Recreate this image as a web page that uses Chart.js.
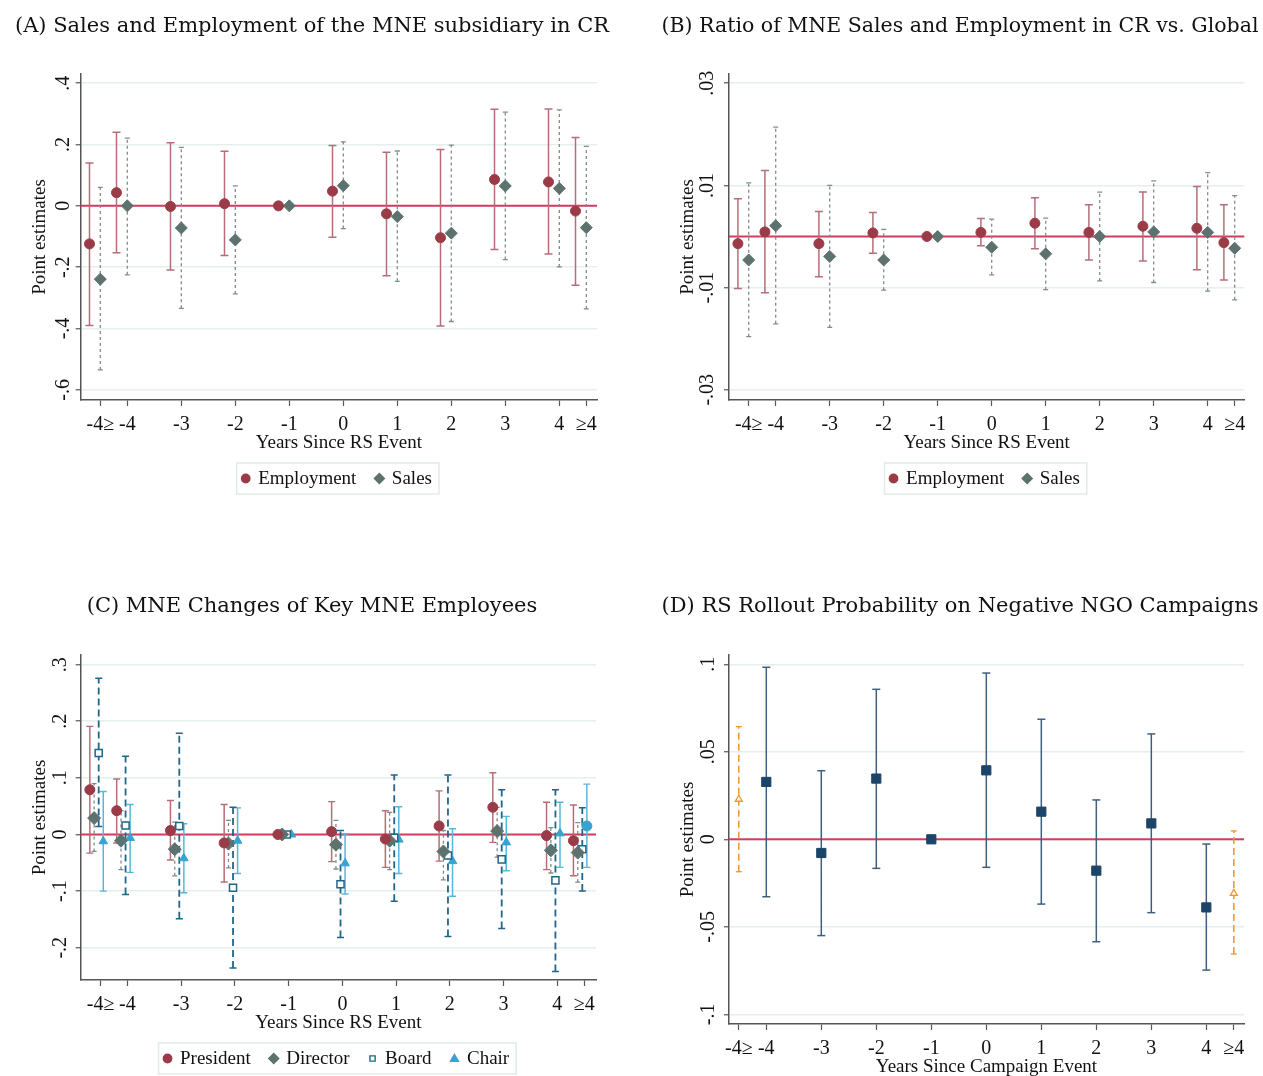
<!DOCTYPE html>
<html>
<head>
<meta charset="utf-8">
<script src="https://cdn.jsdelivr.net/npm/chart.js@4.4.1/dist/chart.umd.min.js"></script>
<style>
  body { margin: 0; background: #fff; width: 1263px; height: 1076px; position: relative; overflow: hidden; }
  canvas { position: absolute; }
</style>
</head>
<body>
<canvas id="chartA" width="631" height="520" style="left:0;top:0"></canvas>
<canvas id="chartB" width="632" height="520" style="left:631px;top:0"></canvas>
<canvas id="chartC" width="631" height="530" style="left:0;top:560px"></canvas>
<canvas id="chartD" width="632" height="530" style="left:631px;top:560px"></canvas>
<script>
// x positions of the event-time bins and their tick labels
const xPos = [-4.5, -4, -3, -2, -1, 0, 1, 2, 3, 4, 4.5];
const xLabels = ['-4≥', '-4', '-3', '-2', '-1', '0', '1', '2', '3', '4', '≥4'];

// (A) subsidiary sales and employment
const empA    = [-0.124, 0.043, -0.002, 0.007, 0, 0.048, -0.026, -0.104, 0.086, 0.078, -0.017];
const empA_lo = [-0.390, -0.153, -0.209, -0.162, null, -0.102, -0.228, -0.392, -0.142, -0.157, -0.259];
const empA_hi = [0.140, 0.240, 0.206, 0.178, null, 0.197, 0.175, 0.184, 0.315, 0.316, 0.223];
const salesA    = [-0.239, 0, -0.072, -0.111, 0, 0.066, -0.035, -0.089, 0.065, 0.057, -0.071];
const salesA_lo = [-0.535, -0.225, -0.334, -0.287, null, -0.074, -0.246, -0.377, -0.175, -0.199, -0.336];
const salesA_hi = [0.060, 0.221, 0.191, 0.065, null, 0.209, 0.179, 0.198, 0.306, 0.313, 0.194];
const yTicksA  = [-0.6, -0.4, -0.2, 0, 0.2, 0.4];
const yLabelsA = ['-.6', '-.4', '-.2', '0', '.2', '.4'];

// (B) ratio CR vs global
const empB    = [-0.0014, 0.0009, -0.0014, 0.0007, 0, 0.0008, 0.0026, 0.0008, 0.0020, 0.0016, -0.0012];
const empB_lo = [-0.0102, -0.0110, -0.0079, -0.0033, null, -0.0018, -0.0024, -0.0046, -0.0048, -0.0065, -0.0085];
const empB_hi = [0.0074, 0.0129, 0.0049, 0.0047, null, 0.0035, 0.0076, 0.0062, 0.0087, 0.0098, 0.0062];
const salesB    = [-0.0046, 0.0021, -0.0039, -0.0046, 0, -0.0021, -0.0034, 0, 0.0009, 0.0008, -0.0023];
const salesB_lo = [-0.0196, -0.0171, -0.0178, -0.0105, null, -0.0075, -0.0104, -0.0087, -0.0090, -0.0107, -0.0124];
const salesB_hi = [0.0105, 0.0214, 0.0100, 0.0014, null, 0.0034, 0.0036, 0.0087, 0.0109, 0.0125, 0.0080];
const yTicksB  = [-0.03, -0.01, 0.01, 0.03];
const yLabelsB = ['-.03', '-.01', '.01', '.03'];

// (C) key employees
const pres    = [0.079, 0.042, 0.007, -0.015, 0, 0.005, -0.008, 0.015, 0.048, -0.002, -0.011];
const pres_lo = [-0.033, -0.015, -0.045, -0.084, null, -0.048, -0.058, -0.047, -0.014, -0.062, -0.073];
const pres_hi = [0.191, 0.098, 0.060, 0.053, null, 0.058, 0.042, 0.077, 0.109, 0.057, 0.052];
const dir    = [0.029, -0.011, -0.026, -0.016, 0, -0.018, -0.011, -0.030, 0.006, -0.028, -0.032];
const dir_lo = [-0.030, -0.062, -0.073, -0.059, null, -0.061, -0.062, -0.080, -0.040, -0.068, -0.084];
const dir_hi = [0.090, 0.042, 0.022, 0.025, null, 0.025, 0.039, 0.007, 0.048, 0.012, 0.021];
const board    = [0.144, 0.016, 0.015, -0.094, 0, -0.088, -0.006, -0.037, -0.044, -0.081, -0.026];
const board_lo = [0.014, -0.106, -0.149, -0.236, null, -0.182, -0.118, -0.180, -0.166, -0.242, -0.100];
const board_hi = [0.276, 0.138, 0.179, 0.048, null, 0.007, 0.105, 0.105, 0.079, 0.079, 0.047];
const chair    = [-0.012, -0.006, -0.042, -0.011, 0, -0.051, -0.009, -0.047, -0.014, 0.002, 0.015];
const chair_lo = [-0.100, -0.067, -0.103, -0.069, null, -0.105, -0.069, -0.109, -0.064, -0.058, -0.058];
const chair_hi = [0.076, 0.053, 0.019, 0.047, null, 0.001, 0.049, 0.010, 0.032, 0.057, 0.089];
const yTicksC  = [-0.2, -0.1, 0, 0.1, 0.2, 0.3];
const yLabelsC = ['-.2', '-.1', '0', '.1', '.2', '.3'];

// (D) rollout probability
const xPosD    = [-4, -3, -2, -1, 0, 1, 2, 3, 4];
const rollD    = [0.0328, -0.0078, 0.0347, 0, 0.0394, 0.0158, -0.0179, 0.0091, -0.0389];
const rollD_lo = [-0.0328, -0.0550, -0.0166, null, -0.0160, -0.0370, -0.0585, -0.0419, -0.0747];
const rollD_hi = [0.0983, 0.0392, 0.0857, null, 0.0950, 0.0686, 0.0225, 0.0602, -0.0027];
const xPosDBins = [-4.5, 4.5];
const binD    = [0.0229, -0.0309];
const binD_lo = [-0.0185, -0.0655];
const binD_hi = [0.0644, 0.0048];
const yTicksD  = [-0.1, -0.05, 0, 0.05, 0.1];
const yLabelsD = ['-.1', '-.05', '0', '.05', '.1'];

const tickFont = 'Liberation Serif';
const titleFont = 'DejaVu Serif';

function pointSet(label, xs, ys, dx, style) {
    return Object.assign({
        label: label,
        order: 0,
        data: xs.map((x, i) => ({ x: x + dx, y: ys[i] }))
    }, style);
}

// vertical CI segments, broken by null rows, caps drawn as 'line' points
function ciSet(xs, lo, hi, dx, style) {
    let data = [];
    xs.forEach((x, i) => {
        if (lo[i] === null) return;
        data.push({ x: x + dx, y: lo[i] }, { x: x + dx, y: hi[i] }, { x: x + dx, y: null });
    });
    return Object.assign({
        type: 'line',
        label: '',
        order: 1,
        data: data,
        showLine: true,
        spanGaps: false,
        fill: false,
        pointStyle: 'line',
        pointRadius: 4,
        borderWidth: 1.5
    }, style);
}

function drawMarker(ctx, shape, x, y, r, fill, stroke) {
    ctx.beginPath();
    if (shape === 'circle') {
        ctx.arc(x, y, r, 0, Math.PI * 2);
    } else if (shape === 'rectRot') {
        ctx.moveTo(x, y - r); ctx.lineTo(x + r, y); ctx.lineTo(x, y + r); ctx.lineTo(x - r, y);
        ctx.closePath();
    } else if (shape === 'rect') {
        ctx.rect(x - r, y - r, r * 2, r * 2);
    } else if (shape === 'triangle') {
        ctx.moveTo(x, y - r); ctx.lineTo(x + r, y + r * 0.7); ctx.lineTo(x - r, y + r * 0.7);
        ctx.closePath();
    }
    ctx.fillStyle = fill;
    ctx.fill();
    ctx.lineWidth = 1.4;
    ctx.strokeStyle = stroke;
    ctx.stroke();
}

const stataPlugin = {
    id: 'stata',
    beforeDatasetsDraw(chart) {
        // red reference line at zero
        const { ctx, chartArea } = chart;
        const y0 = chart.scales.y.getPixelForValue(0);
        ctx.save();
        ctx.strokeStyle = '#d23c60';
        ctx.lineWidth = 2;
        ctx.beginPath();
        ctx.moveTo(chartArea.left, y0);
        ctx.lineTo(chartArea.right, y0);
        ctx.stroke();
        ctx.restore();
    },
    afterDraw(chart, args, opts) {
        const { ctx, chartArea } = chart;
        const yScale = chart.scales.y;
        ctx.save();

        // panel title (drawn without a max width so it keeps its natural size)
        ctx.fillStyle = '#111';
        ctx.font = opts.titleSize + 'px "' + titleFont + '"';
        ctx.textAlign = 'center';
        ctx.textBaseline = 'middle';
        ctx.fillText(opts.title, opts.titleX, opts.titleY);

        // y tick labels, rotated like Stata
        ctx.font = '20px "' + tickFont + '"';
        opts.yTicks.forEach((v, i) => {
            ctx.save();
            ctx.translate(chartArea.left - opts.yLabOff, yScale.getPixelForValue(v));
            ctx.rotate(-Math.PI / 2);
            ctx.fillText(opts.yLabels[i], 0, 0);
            ctx.restore();
        });

        // boxed legend under the axis title
        if (opts.legend) {
            const items = opts.legend;
            const cy = chartArea.bottom + 78.5;
            ctx.font = '19px "' + tickFont + '"';
            ctx.textAlign = 'left';
            let widths = items.map(it => ctx.measureText(it.text).width);
            let total = 0;
            widths.forEach((w, i) => { total += 12.5 + w + (i < items.length - 1 ? 23 : 0); });
            let x = (chartArea.left + chartArea.right) / 2 - total / 2;
            ctx.strokeStyle = '#e2eaea';
            ctx.lineWidth = 1.5;
            ctx.strokeRect(x - 9, cy - 15.5, total + 16, 31);
            items.forEach((it, i) => {
                drawMarker(ctx, it.shape, x, cy, it.r, it.fill, it.stroke);
                ctx.fillStyle = '#111';
                ctx.fillText(it.text, x + 12.5, cy + 1);
                x += 12.5 + widths[i] + 23;
            });
        }
        ctx.restore();
    }
};

function makeChart(id, p) {
    const xAxisH = 58;
    return new Chart(document.getElementById(id), {
        type: 'scatter',
        data: { datasets: p.datasets },
        plugins: [stataPlugin],
        options: {
            responsive: false,
            animation: false,
            events: [],
            layout: { padding: { left: p.L - 50, right: p.W - p.R, top: p.T, bottom: p.H - p.B - xAxisH } },
            plugins: {
                legend: { display: false },
                tooltip: { enabled: false },
                title: { display: false },
                stata: {
                    title: p.title, titleX: p.titleX, titleY: p.titleY, titleSize: p.titleSize || 21,
                    yTicks: p.yTicks, yLabels: p.yLabels, yLabOff: p.yLabOff, legend: p.legend
                }
            },
            scales: {
                x: {
                    type: 'linear',
                    min: p.xMin,
                    max: p.xMax,
                    afterBuildTicks: s => { s.ticks = xPos.map(v => ({ value: v })); },
                    afterFit: s => { s.height = xAxisH; },
                    ticks: {
                        autoSkip: false, maxRotation: 0, minRotation: 0, padding: 7,
                        color: '#111', font: { family: tickFont, size: 20 },
                        callback: (v, i) => xLabels[i]
                    },
                    grid: { drawOnChartArea: false, drawTicks: true, tickLength: 6, tickColor: '#555', tickWidth: 1.2 },
                    border: { display: true, color: '#555', width: 1.5 },
                    title: {
                        display: true, text: p.xTitle, color: '#111',
                        font: { family: tickFont, size: 19, lineHeight: 1 },
                        padding: { top: 0, bottom: 5 }
                    }
                },
                y: {
                    type: 'linear',
                    min: p.yMin,
                    max: p.yMax,
                    afterBuildTicks: s => { s.ticks = p.yTicks.map(v => ({ value: v })); },
                    afterFit: s => { s.width = 50; },
                    ticks: { display: false },
                    grid: { color: '#e6eeee', lineWidth: 1.5, drawTicks: true, tickLength: 5, tickColor: '#555', tickWidth: 1.2 },
                    border: { display: true, color: '#555', width: 1.5 },
                    title: {
                        display: true, text: 'Point estimates', color: '#111',
                        font: { family: tickFont, size: 19, lineHeight: 1 },
                        padding: { top: 0, bottom: 0 }
                    }
                }
            }
        }
    });
}

const empColor = '#9b3b48', empCI = '#b56e78';
const salesColor = '#5d726e', salesCI = '#808c89';
const boardColor = '#1f6688';
const chairColor = '#38a3cf', chairCI = '#5ab5db';
const navy = '#1b4468', navyCI = '#3f5f7f';
const orange = '#f0962a';

function empSalesSets(emp, empLo, empHi, sales, salesLo, salesHi) {
    return [
        pointSet('Employment', xPos, emp, -0.2, { pointStyle: 'circle', pointRadius: 5, backgroundColor: empColor, borderColor: empColor }),
        pointSet('Sales', xPos, sales, 0, { pointStyle: 'rectRot', pointRadius: 6, backgroundColor: salesColor, borderColor: salesColor }),
        ciSet(xPos, empLo, empHi, -0.2, { borderColor: empCI, pointBorderColor: empCI, pointBorderWidth: 1.5 }),
        ciSet(xPos, salesLo, salesHi, 0, { borderColor: salesCI, borderDash: [3, 3], borderWidth: 1.3, pointRadius: 2.5, pointBorderColor: salesCI, pointBorderWidth: 1.3 })
    ];
}

const legendAB = [
    { text: 'Employment', shape: 'circle', r: 4.2, fill: empColor, stroke: empColor },
    { text: 'Sales', shape: 'rectRot', r: 5, fill: salesColor, stroke: salesColor }
];

makeChart('chartA', {
    title: '(A) Sales and Employment of the MNE subsidiary in CR', titleX: 312, titleY: 27,
    L: 80.7, T: 74, R: 597, B: 400, W: 631, H: 520,
    xMin: -4.863, xMax: 4.698, yMin: -0.633, yMax: 0.430,
    yTicks: yTicksA, yLabels: yLabelsA, yLabOff: 17,
    xTitle: 'Years Since RS Event',
    datasets: empSalesSets(empA, empA_lo, empA_hi, salesA, salesA_lo, salesA_hi),
    legend: legendAB
});

makeChart('chartB', {
    title: '(B) Ratio of MNE Sales and Employment in CR vs. Global', titleX: 329, titleY: 27, titleSize: 20.5,
    L: 98, T: 74, R: 613.3, B: 400, W: 632, H: 520,
    xMin: -4.865, xMax: 4.678, yMin: -0.032, yMax: 0.0318,
    yTicks: yTicksB, yLabels: yLabelsB, yLabOff: 21,
    xTitle: 'Years Since RS Event',
    datasets: empSalesSets(empB, empB_lo, empB_hi, salesB, salesB_lo, salesB_hi),
    legend: legendAB
});

makeChart('chartC', {
    title: '(C) MNE Changes of Key MNE Employees', titleX: 312, titleY: 47,
    L: 80.7, T: 95, R: 596, B: 420, W: 631, H: 530,
    xMin: -4.87, xMax: 4.72, yMin: -0.257, yMax: 0.317,
    yTicks: yTicksC, yLabels: yLabelsC, yLabOff: 20,
    xTitle: 'Years Since RS Event',
    datasets: [
        pointSet('President', xPos, pres, -0.2, { pointStyle: 'circle', pointRadius: 5, backgroundColor: empColor, borderColor: empColor }),
        pointSet('Director', xPos, dir, -0.12, { pointStyle: 'rectRot', pointRadius: 6.5, backgroundColor: salesColor, borderColor: salesColor }),
        pointSet('Board', xPos, board, -0.035, { pointStyle: 'rect', pointRadius: 5, backgroundColor: '#ffffff', borderColor: boardColor, borderWidth: 1.5 }),
        pointSet('Chair', xPos, chair, 0.05, {
            pointStyle: xPos.map((v, i) => i === xPos.length - 1 ? 'circle' : 'triangle'),
            pointRadius: 5, backgroundColor: chairColor, borderColor: chairColor
        }),
        ciSet(xPos, pres_lo, pres_hi, -0.2, { borderColor: empCI, pointBorderColor: empCI, pointBorderWidth: 1.4, pointRadius: 3.5 }),
        ciSet(xPos, dir_lo, dir_hi, -0.12, { borderColor: salesCI, borderDash: [3, 3], borderWidth: 1.3, pointRadius: 2.5, pointBorderColor: salesCI, pointBorderWidth: 1.3 }),
        ciSet(xPos, board_lo, board_hi, -0.035, { borderColor: boardColor, borderDash: [7, 4], borderWidth: 1.8, pointRadius: 3.5, pointBorderColor: boardColor, pointBorderWidth: 1.5 }),
        ciSet(xPos, chair_lo, chair_hi, 0.05, { borderColor: chairCI, pointBorderColor: chairCI, pointBorderWidth: 1.4, pointRadius: 3.5 })
    ],
    legend: [
        { text: 'President', shape: 'circle', r: 4.2, fill: empColor, stroke: empColor },
        { text: 'Director', shape: 'rectRot', r: 5, fill: salesColor, stroke: salesColor },
        { text: 'Board', shape: 'rect', r: 2.6, fill: '#ffffff', stroke: boardColor },
        { text: 'Chair', shape: 'triangle', r: 4, fill: chairColor, stroke: chairColor }
    ]
});

makeChart('chartD', {
    title: '(D) RS Rollout Probability on Negative NGO Campaigns', titleX: 329, titleY: 47,
    L: 98, T: 95, R: 613, B: 464, W: 632, H: 530,
    xMin: -4.678, xMax: 4.685, yMin: -0.1055, yMax: 0.1053,
    yTicks: yTicksD, yLabels: yLabelsD, yLabOff: 20,
    xTitle: 'Years Since Campaign Event',
    datasets: [
        pointSet('Rollout', xPosD, rollD, 0, { pointStyle: 'rect', pointRadius: 6.5, backgroundColor: navy, borderColor: navy }),
        pointSet('Binned', xPosDBins, binD, 0, { pointStyle: 'triangle', pointRadius: 4, backgroundColor: '#ffffff', borderColor: orange, borderWidth: 1.3 }),
        ciSet(xPosD, rollD_lo, rollD_hi, 0, { borderColor: navyCI, pointBorderColor: navyCI, pointBorderWidth: 1.5, pointRadius: 4 }),
        ciSet(xPosDBins, binD_lo, binD_hi, 0, { borderColor: orange, borderDash: [7, 4], borderWidth: 1.5, pointRadius: 3, pointBorderColor: orange, pointBorderWidth: 1.3 })
    ],
    legend: null
});
</script>
</body>
</html>
